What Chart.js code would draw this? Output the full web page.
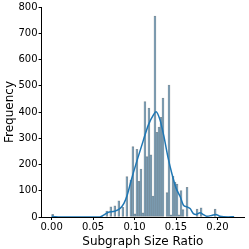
<!DOCTYPE html>
<html>
<head>
<meta charset="utf-8">
<script src="https://cdn.jsdelivr.net/npm/chart.js@4"></script>
<style>
  html, body { margin: 0; padding: 0; background: #fff; }
  #wrap { width: 249px; height: 249px; }
</style>
</head>
<body>
<div id="wrap"><canvas id="histChart" width="249" height="249"></canvas></div>
<script>
// histogram bins (start + width) and counts
const binStart = 0;
const binWidth = 0.00242;
const counts = [
    10, 0, 0, 0, 0, 0, 0, 0, 0, 0,
    0, 0, 0, 0, 0, 0, 0, 0, 0, 0,
    0, 0, 0, 0, 0, 0, 0, 23, 0, 39,
    0, 43, 0, 62, 0, 37, 0, 154, 0, 140,
    268, 12, 258, 136, 183, 16, 440, 230, 415, 237,
    80, 765, 323, 343, 380, 453, 0, 93, 503, 8,
    155, 133, 125, 8, 101, 28, 0, 113, 0, 0,
    0, 0, 30, 0, 35, 0, 0, 0, 0, 0,
    0, 30, 0, 0, 0, 0, 0, 0, 0, 0,
    3
];

// kde curve
const kdeX = [0.000, 0.005, 0.010, 0.058, 0.0638, 0.0678, 0.0759, 0.0823, 0.0872, 0.0912,
              0.0960, 0.1025, 0.1105, 0.1166, 0.1226, 0.1259, 0.1308, 0.1356, 0.1404, 0.1453,
              0.1501, 0.155, 0.159, 0.163, 0.167, 0.171, 0.174, 0.179, 0.183, 0.187,
              0.193, 0.198, 0.203, 0.213, 0.220];
const kdeY = [3, 1, 0, 0, 9, 17, 22, 32, 52, 84,
              140, 210, 291, 350, 388, 401, 369, 304, 226, 162,
              110, 78, 45, 39, 32, 13, 10, 16, 9, 3,
              6, 10, 3, 0, 1];

const xTicks = [0, 0.05, 0.10, 0.15, 0.20];
const yTicks = [0, 100, 200, 300, 400, 500, 600, 700, 800];

const histData = counts.map((c, i) => ({ x: binStart + (i + 0.5) * binWidth, y: c }));
const kdeData = kdeX.map((x, i) => ({ x: x, y: kdeY[i] }));

const tickFont = { family: 'DejaVu Sans', size: 10 };
const titleFont = { family: 'DejaVu Sans', size: 12, lineHeight: 1 };

new Chart(document.getElementById('histChart').getContext('2d'), {
    data: {
        datasets: [{
            type: 'line',
            data: kdeData,
            borderColor: '#1f77b4',
            borderWidth: 1.5,
            pointRadius: 0,
            cubicInterpolationMode: 'monotone',
            fill: false
        }, {
            type: 'bar',
            data: histData,
            backgroundColor: 'rgba(31, 119, 180, 0.4)',
            borderColor: 'rgba(55, 55, 55, 0.5)',
            borderWidth: 0.5,
            borderSkipped: false,
            barThickness: 'flex',
            barPercentage: 1,
            categoryPercentage: 1
        }]
    },
    options: {
        responsive: false,
        animation: false,
        layout: { padding: { top: 5, right: 5, left: 4, bottom: 1 } },
        plugins: { legend: { display: false }, tooltip: { enabled: false } },
        scales: {
            x: {
                type: 'linear',
                offset: false,
                min: -0.0121,
                max: 0.232,
                afterBuildTicks: (axis) => { axis.ticks = xTicks.map(v => ({ value: v })); },
                ticks: {
                    font: tickFont,
                    color: '#000',
                    padding: 1,
                    maxRotation: 0,
                    callback: (v) => Number(v).toFixed(2)
                },
                grid: { drawOnChartArea: false, drawTicks: true, tickLength: 3, color: '#000', offset: false },
                border: { display: true, color: '#000', width: 1 },
                title: { display: true, text: 'Subgraph Size Ratio', font: titleFont, color: '#000', padding: { top: 2, bottom: 0 } }
            },
            y: {
                type: 'linear',
                min: 0,
                max: 800,
                afterBuildTicks: (axis) => { axis.ticks = yTicks.map(v => ({ value: v })); },
                ticks: { font: tickFont, color: '#000', padding: 1 },
                grid: { drawOnChartArea: false, drawTicks: true, tickLength: 3, color: '#000' },
                border: { display: true, color: '#000', width: 1 },
                title: { display: true, text: 'Frequency', font: titleFont, color: '#000', padding: { top: 0, bottom: 1.5 } }
            }
        }
    }
});
</script>
</body>
</html>
